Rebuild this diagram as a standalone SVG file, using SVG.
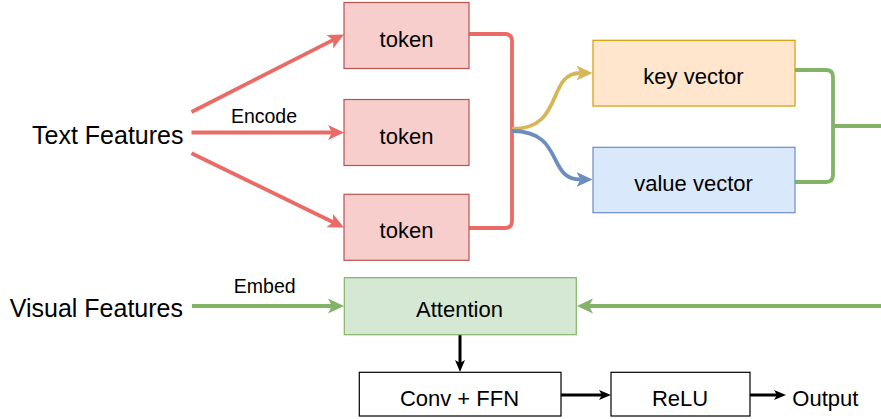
<svg xmlns="http://www.w3.org/2000/svg" width="881" height="419" viewBox="0 0 881 419">
<style>
text{font-family:"Liberation Sans",Arial,sans-serif;fill:#000;}
.lbl{font-size:22px;text-anchor:middle;}
.side{font-size:25px;text-anchor:end;}
.small{font-size:19.5px;text-anchor:middle;}
.box{stroke-width:1.2;}
.tok{fill:#f8cecc;stroke:#b85450;}
.key{fill:#ffe6cc;stroke:#d79b00;}
.val{fill:#dae8fc;stroke:#6c8ebf;}
.att{fill:#d5e8d4;stroke:#82b366;}
.plain{fill:#fff;stroke:#000;}
.c{fill:none;stroke-width:3.8;stroke-linejoin:round;}
.red{stroke:#ea6b66;}
.grn{stroke:#82b366;}
.yel{stroke:#d6b656;}
.blu{stroke:#6c8ebf;}
.blk{fill:none;stroke:#000;stroke-width:3;}
</style>
<defs>
<marker id="aR" viewBox="0 0 16 16" refX="4" refY="8" markerWidth="16" markerHeight="16" markerUnits="userSpaceOnUse" orient="auto"><path d="M0,0.5 L16,8 L0,15.5 L4,8 z" fill="#ea6b66"/></marker>
<marker id="aG" viewBox="0 0 16 16" refX="4" refY="8" markerWidth="16" markerHeight="16" markerUnits="userSpaceOnUse" orient="auto"><path d="M0,0.5 L16,8 L0,15.5 L4,8 z" fill="#82b366"/></marker>
<marker id="aY" viewBox="0 0 16 16" refX="4" refY="8" markerWidth="16" markerHeight="16" markerUnits="userSpaceOnUse" orient="auto"><path d="M0,0.5 L16,8 L0,15.5 L4,8 z" fill="#d6b656"/></marker>
<marker id="aB" viewBox="0 0 16 16" refX="4" refY="8" markerWidth="16" markerHeight="16" markerUnits="userSpaceOnUse" orient="auto"><path d="M0,0.5 L16,8 L0,15.5 L4,8 z" fill="#6c8ebf"/></marker>
<marker id="aK" viewBox="0 0 12 12" refX="3" refY="6" markerWidth="12" markerHeight="12" markerUnits="userSpaceOnUse" orient="auto"><path d="M0,1 L12,6 L0,11 L3,6 z" fill="#000"/></marker>
</defs>
<rect width="881" height="419" fill="#fff"/>
<g id="connectors">
<path class="c red" d="M191.5,112 L333.3,39.9" marker-end="url(#aR)"/>
<path class="c red" d="M191.5,132.5 L332,132.5" marker-end="url(#aR)"/>
<path class="c red" d="M191.5,153.3 L333.2,222.3" marker-end="url(#aR)"/>
<path class="c red" d="M469,34 H505 Q512,34 512,41 V221 Q512,228 505,228 H469"/>
<path class="c yel" d="M512,129 C565,129 546,73 580.5,73" marker-end="url(#aY)"/>
<path class="c blu" d="M512,131 C565,131 546,179.5 580.5,179.5" marker-end="url(#aB)"/>
<path class="c grn" d="M795,70 H826 Q833,70 833,77 V175 Q833,182 826,182 H795"/>
<path class="c grn" d="M833,126 H881"/>
<path class="c grn" d="M192,306 H332" marker-end="url(#aG)"/>
<path class="c grn" d="M881,306 H589" marker-end="url(#aG)"/>
<path class="blk" d="M460,335 V363" marker-end="url(#aK)"/>
<path class="blk" d="M561,395 H602" marker-end="url(#aK)"/>
<path class="blk" d="M750,395 H777" marker-end="url(#aK)"/>
<text class="small" x="264" y="122.5">Encode</text>
<text class="small" x="264.7" y="293.3">Embed</text>
</g>
<g id="text-features"><text class="side" x="183.5" y="144.3">Text Features</text></g>
<g id="visual-features"><text class="side" x="183" y="316.7">Visual Features</text></g>
<g id="token1"><rect class="box tok" x="344" y="2.5" width="125" height="66"/><text class="lbl" x="406.5" y="46.7">token</text></g>
<g id="token2"><rect class="box tok" x="344" y="99.5" width="125" height="66"/><text class="lbl" x="406.5" y="144.3">token</text></g>
<g id="token3"><rect class="box tok" x="344" y="194.3" width="125" height="66"/><text class="lbl" x="406.5" y="238.3">token</text></g>
<g id="key-vector"><rect class="box key" x="593" y="40.3" width="202" height="65.7"/><text class="lbl" x="693.5" y="84">key vector</text></g>
<g id="value-vector"><rect class="box val" x="593" y="147.3" width="202" height="65.4"/><text class="lbl" x="693.5" y="190.7">value vector</text></g>
<g id="attention"><rect class="box att" x="344.3" y="277.7" width="232" height="57"/><text class="lbl" x="459.5" y="317.3">Attention</text></g>
<g id="conv-ffn"><rect class="box plain" x="359.3" y="372.3" width="201.7" height="43.7"/><text class="lbl" x="459.5" y="405.7">Conv + FFN</text></g>
<g id="relu"><rect class="box plain" x="611" y="372.3" width="139" height="43.7"/><text class="lbl" x="680" y="405.7">ReLU</text></g>
<g id="output"><text style="font-size:22px" x="792.3" y="405.7">Output</text></g>
</svg>
